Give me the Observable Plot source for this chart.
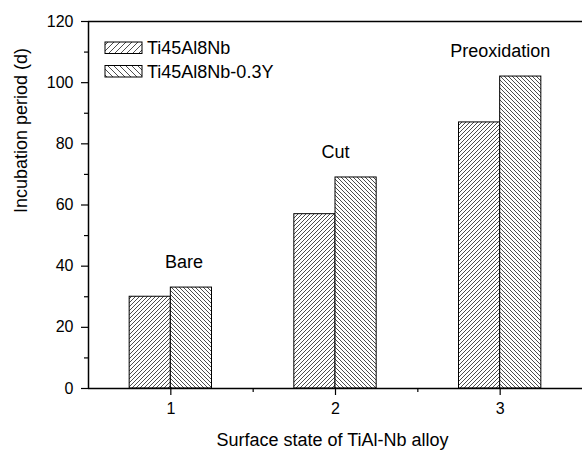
<!DOCTYPE html>
<html><head><meta charset="utf-8">
<script src="https://cdn.jsdelivr.net/npm/d3@7"></script>
<script src="https://cdn.jsdelivr.net/npm/@observablehq/plot@0.6"></script>
<style>body{margin:0;background:#fff;} svg{font-family:"Liberation Sans",Arial,sans-serif;}</style>
</head><body><div id="chart"></div>
<script>
const categories = ["Bare", "Cut", "Preoxidation"];
const positions = [1, 2, 3];
const seriesNames = ["Ti45Al8Nb", "Ti45Al8Nb-0.3Y"];
const ti45al8nb = [30, 57, 87];
const ti45al8nbY = [33, 69, 102];
const labelX = [1.08, 2, 3];
const yTicks = [0, 20, 40, 60, 80, 100, 120];
const yMinorTicks = [10, 30, 50, 70, 90, 110];
const xTicks = [1, 2, 3];
const xMinorTicks = [1.5, 2.5];
const xTitle = "Surface state of TiAl-Nb alloy";
const yTitle = "Incubation period (d)";

const barWidth = 0.25;
const rowsA = positions.map((p, i) => ({pos: p, v: ti45al8nb[i]}));
const rowsB = positions.map((p, i) => ({pos: p, v: ti45al8nbY[i]}));
const labels = categories.map((c, i) => ({name: c, x: labelX[i], y: Math.max(ti45al8nb[i], ti45al8nbY[i])}));

const chart = Plot.plot({
  width: 582, height: 451,
  marginLeft: 88, marginRight: 0, marginTop: 21, marginBottom: 63,
  x: {domain: [0.5, 3.5]},
  y: {domain: [0, 120]},
  style: {fontFamily: '"Liberation Sans", Arial, sans-serif', fontSize: "16px", color: "black", background: "white"},
  marks: [
    Plot.rect(rowsA, {x1: d => d.pos - barWidth, x2: d => d.pos, y1: d => 0, y2: "v", fill: "url(#hatchA)", stroke: "black", strokeWidth: 1}),
    Plot.rect(rowsB, {x1: d => d.pos, x2: d => d.pos + barWidth, y1: d => 0, y2: "v", fill: "url(#hatchB)", stroke: "black", strokeWidth: 1}),
    Plot.ruleX([0.5], {y1: 0, y2: 120, stroke: "black", strokeWidth: 1.5}),
    Plot.ruleY([0, 120], {x1: 0.5, x2: 3.5, stroke: "black", strokeWidth: 1.5}),
    Plot.axisY({ticks: yTicks, tickSize: 7, tickPadding: 8, tickFormat: "d", label: null, strokeWidth: 1.2, fontSize: 16}),
    Plot.axisY({ticks: yMinorTicks, tickSize: 4, tickFormat: () => "", label: null, strokeWidth: 1.2}),
    Plot.axisX({ticks: xTicks, tickSize: 7, tickPadding: 7, tickFormat: "d", label: null, strokeWidth: 1.2, fontSize: 16}),
    Plot.axisX({ticks: xMinorTicks, tickSize: 4, tickFormat: () => "", label: null, strokeWidth: 1.2}),
    Plot.text(labels, {x: "x", y: "y", text: "name", dy: -25, fontSize: 18, lineAnchor: "middle"}),
    Plot.text([xTitle], {frameAnchor: "bottom", text: d => d, dy: 52, dx: -3, fontSize: 18, lineAnchor: "middle"}),
    Plot.text([yTitle], {frameAnchor: "left", text: d => d, rotate: -90, dx: -67, dy: 8, fontSize: 18, lineAnchor: "middle"})
  ]
});

const svg = d3.select(chart);
const defs = svg.insert("defs", ":first-child");
function hatch(id, size, forward) {
  const p = defs.append("pattern").attr("id", id).attr("patternUnits", "userSpaceOnUse")
    .attr("width", size).attr("height", size);
  p.append("rect").attr("width", size).attr("height", size).attr("fill", "white");
  const s = size;
  const d = forward
    ? `M-1,1 l2,-2 M0,${s} l${s},-${s} M${s-1},${s+1} l2,-2`
    : `M-1,${s-1} l2,2 M0,0 l${s},${s} M${s-1},-1 l2,2`;
  p.append("path").attr("d", d).attr("stroke", "#111").attr("stroke-width", 0.75).attr("fill", "none");
}
hatch("hatchA", 4, true);
hatch("hatchB", 4, false);
hatch("legA", 6, true);
hatch("legB", 6, false);

const leg = svg.append("g");
seriesNames.forEach((name, i) => {
  const y0 = 42 + i * 23.5;
  leg.append("rect").attr("x", 105).attr("y", y0).attr("width", 37).attr("height", 11.5)
    .attr("fill", i === 0 ? "url(#legA)" : "url(#legB)").attr("stroke", "black").attr("stroke-width", 1);
  leg.append("text").attr("x", 147).attr("y", y0 + 5.75).attr("dy", "0.35em")
    .attr("text-anchor", "start").attr("font-size", 18).attr("fill", "black").text(name);
});

document.getElementById("chart").appendChild(chart);
</script>
</body></html>
